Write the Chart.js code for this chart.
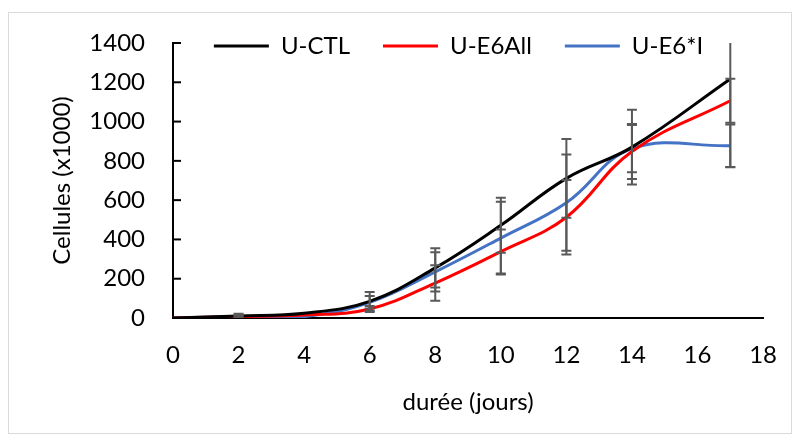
<!DOCTYPE html>
<html>
<head>
<meta charset="utf-8">
<script src="https://cdn.jsdelivr.net/npm/chart.js@4.4.1/dist/chart.umd.min.js"></script>
<style>
  body { margin: 0; background: #fff; }
  #frame { position: absolute; left: 8px; top: 12px; width: 782px; height: 420px; border: 1px solid #d9d9d9; }
  #c { position: absolute; left: 0; top: 0; }
</style>
</head>
<body>
<div id="frame"></div>
<canvas id="c" width="800" height="444"></canvas>
<script>
// days of culture
const days = [0, 2, 4, 6, 8, 10, 12, 14, 17];

// cell counts (x1000) per line
const ctl   = [0, 10, 24, 85, 255, 472, 711, 870, 1217];
const e6all = [0, 8, 15, 46, 178, 338, 513, 848, 1106];
const e6i   = [0, 5, 7, 80, 235, 407, 587, 862, 877];

// error bar half-widths
const ctlErr   = [0, 12, 0, 48, 100, 140, 200, 190, 450];
const e6allErr = [0, 6, 0, 15, 90, 112, 190, 140, 112];
const e6iErr   = [0, 6, 0, 32, 100, 185, 245, 120, 108];

const xTicks = [0, 2, 4, 6, 8, 10, 12, 14, 16, 18];
const yTicks = [0, 200, 400, 600, 800, 1000, 1200, 1400];

const toPts = (vals) => days.map((d, i) => ({ x: d, y: vals[i] }));

const errBars = {
  id: 'errBars',
  afterDatasetsDraw(chart) {
    const { ctx, chartArea, scales } = chart;
    ctx.save();
    ctx.beginPath();
    ctx.rect(chartArea.left, chartArea.top, chartArea.right - chartArea.left, chartArea.bottom - chartArea.top);
    ctx.clip();
    ctx.strokeStyle = '#595959';
    ctx.lineWidth = 2;
    chart.data.datasets.forEach(ds => {
      ds.data.forEach((p, j) => {
        const e = ds.err[j];
        if (!e) return;
        const x = scales.x.getPixelForValue(p.x);
        const y1 = scales.y.getPixelForValue(p.y + e);
        const y2 = scales.y.getPixelForValue(p.y - e);
        ctx.beginPath();
        ctx.moveTo(x, y1); ctx.lineTo(x, y2);
        ctx.moveTo(x - 5, y1); ctx.lineTo(x + 5, y1);
        ctx.moveTo(x - 5, y2); ctx.lineTo(x + 5, y2);
        ctx.stroke();
      });
    });
    ctx.restore();
  }
};

// small inward tick marks on the value axis
const yMarks = {
  id: 'yMarks',
  afterDraw(chart) {
    const { ctx, scales } = chart;
    const ys = scales.y;
    ctx.save();
    ctx.strokeStyle = '#000';
    ctx.lineWidth = 2;
    ys.ticks.forEach((t, i) => {
      const y = ys.getPixelForTick(i);
      ctx.beginPath();
      ctx.moveTo(ys.right, y);
      ctx.lineTo(ys.right + 8, y);
      ctx.stroke();
    });
    ctx.restore();
  }
};

// push legend into the top of the plot, like the original
const legendShift = {
  id: 'legendShift',
  afterLayout(chart) {
    const lg = chart.legend;
    lg.top += 25; lg.bottom += 25;
    lg.left += 75; lg.right += 75;
  }
};

const font = { family: 'Lato', size: 24 };

new Chart(document.getElementById('c'), {
  type: 'line',
  data: {
    datasets: [
      { label: 'U-CTL', data: toPts(ctl), err: ctlErr, borderColor: '#000000', backgroundColor: '#000000' },
      { label: 'U-E6All', data: toPts(e6all), err: e6allErr, borderColor: '#ff0000', backgroundColor: '#ff0000' },
      { label: 'U-E6*I', data: toPts(e6i), err: e6iErr, borderColor: '#4472c4', backgroundColor: '#4472c4' }
    ]
  },
  options: {
    responsive: false,
    animation: false,
    devicePixelRatio: 1,
    layout: { padding: { left: 0, right: 33, top: -24, bottom: 0 } },
    elements: {
      line: { borderWidth: 3, tension: 0.4, fill: false },
      point: { radius: 0, borderWidth: 3 }
    },
    scales: {
      x: {
        type: 'linear', min: 0, max: 18,
        afterBuildTicks: (s) => { s.ticks = xTicks.map(v => ({ value: v })); },
        afterFit: (s) => { s.height = 126; },
        grid: { display: false, drawTicks: false },
        border: { display: true, color: '#000', width: 2 },
        ticks: { color: '#000', font: font, padding: 23, maxRotation: 0, callback: v => String(v) },
        title: { display: true, text: 'durée (jours)', color: '#000', font: font, padding: { top: 0, bottom: 27 } }
      },
      y: {
        min: 0, max: 1400,
        afterBuildTicks: (s) => { s.ticks = yTicks.map(v => ({ value: v })); },
        afterFit: (s) => { s.width = 173; },
        grid: { display: false, drawTicks: false },
        border: { display: true, color: '#000', width: 2 },
        ticks: { color: '#000', font: font, padding: 28, callback: v => String(v) },
        title: { display: true, text: 'Cellules (x1000)', color: '#000', font: font, padding: { top: 48, bottom: 0 } }
      }
    },
    plugins: {
      legend: {
        position: 'top',
        labels: {
          usePointStyle: true,
          pointStyle: 'line',
          pointStyleWidth: 55,
          padding: 33,
          color: '#000',
          font: font
        }
      },
      tooltip: { enabled: false }
    }
  },
  plugins: [errBars, yMarks, legendShift]
});
</script>
</body>
</html>
